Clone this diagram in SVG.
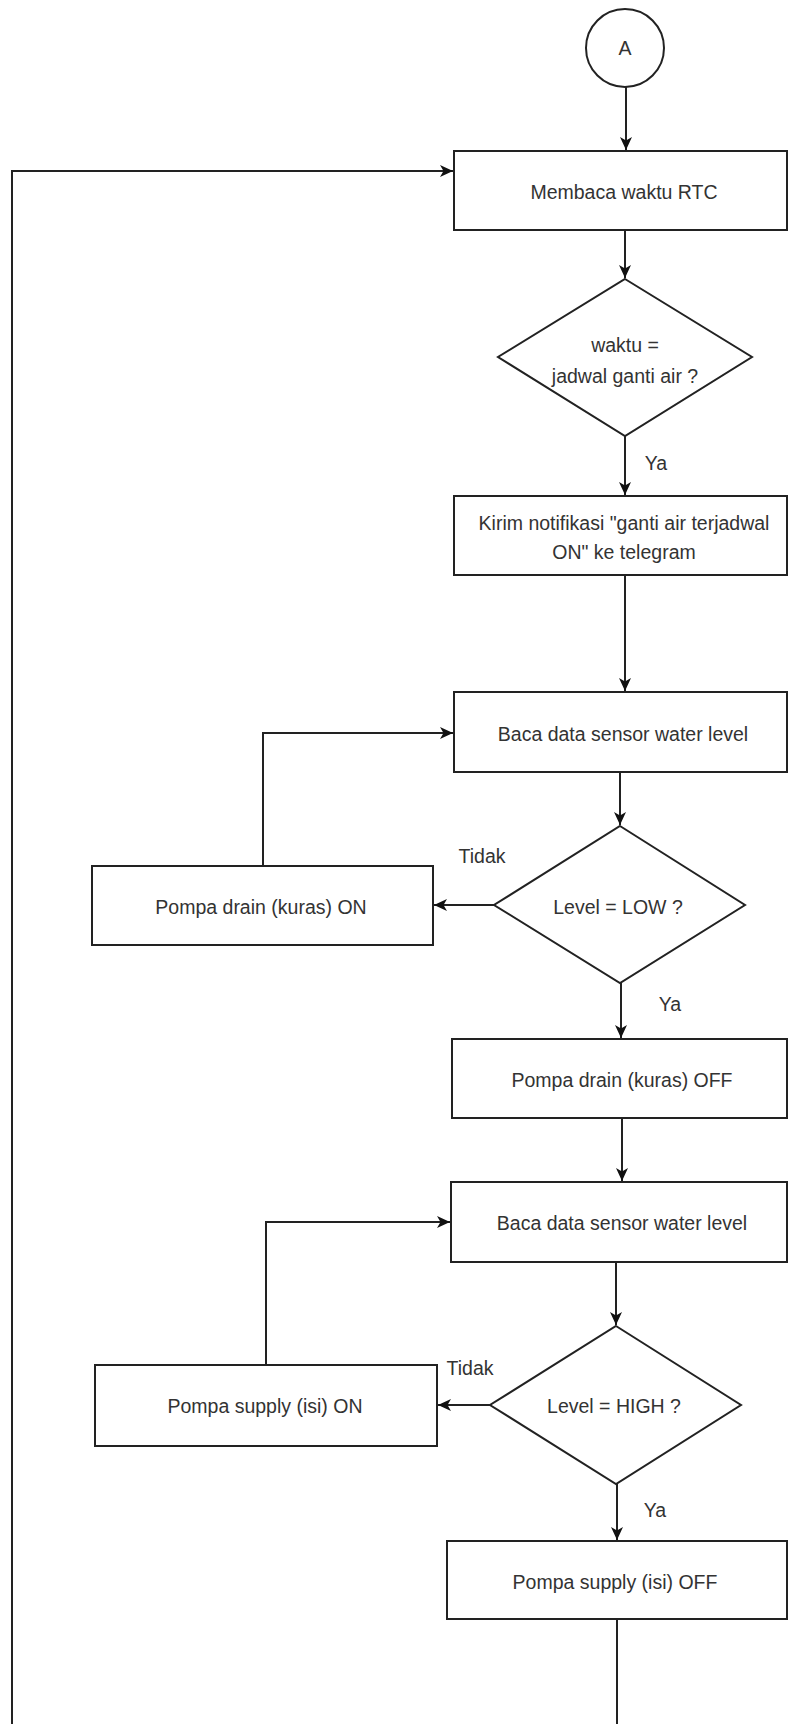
<svg xmlns="http://www.w3.org/2000/svg" width="788" height="1724" viewBox="0 0 788 1724">
<style>
  .box{fill:#fff;stroke:#222;stroke-width:2}
  .ln{fill:none;stroke:#222;stroke-width:2}
  .t{font-family:"Liberation Sans",Arial,sans-serif;font-size:19.5px;fill:#333;text-anchor:middle}
  .lbl{font-family:"Liberation Sans",Arial,sans-serif;font-size:19.5px;fill:#333;text-anchor:middle}
</style>
<defs>
  <marker id="arr" markerUnits="userSpaceOnUse" markerWidth="14" markerHeight="12" refX="13" refY="6" orient="auto">
    <path d="M0,0 L13,6 L0,12 L3.5,6 z" fill="#111"/>
  </marker>
</defs>
<rect width="788" height="1724" fill="#fff"/>
<g id="connectors">
  <line class="ln" x1="626" y1="87" x2="626" y2="150" marker-end="url(#arr)"/>
  <line class="ln" x1="625" y1="230" x2="625" y2="278" marker-end="url(#arr)"/>
  <line class="ln" x1="625" y1="436" x2="625" y2="495" marker-end="url(#arr)"/>
  <line class="ln" x1="625" y1="575" x2="625" y2="691" marker-end="url(#arr)"/>
  <line class="ln" x1="620" y1="772" x2="620" y2="825" marker-end="url(#arr)"/>
  <line class="ln" x1="494" y1="905" x2="434" y2="905" marker-end="url(#arr)"/>
  <polyline class="ln" points="263,866 263,733 453,733" marker-end="url(#arr)"/>
  <line class="ln" x1="621" y1="983" x2="621" y2="1038" marker-end="url(#arr)"/>
  <line class="ln" x1="622" y1="1118" x2="622" y2="1181" marker-end="url(#arr)"/>
  <line class="ln" x1="616" y1="1262" x2="616" y2="1325" marker-end="url(#arr)"/>
  <line class="ln" x1="490" y1="1405" x2="438" y2="1405" marker-end="url(#arr)"/>
  <polyline class="ln" points="266,1365 266,1222 450,1222" marker-end="url(#arr)"/>
  <line class="ln" x1="617" y1="1484" x2="617" y2="1540" marker-end="url(#arr)"/>
  <line class="ln" x1="617" y1="1619" x2="617" y2="1724"/>
  <polyline class="ln" points="12,1724 12,171 453,171" marker-end="url(#arr)"/>
  <text class="lbl" x="656" y="470">Ya</text>
  <text class="lbl" x="482" y="863">Tidak</text>
  <text class="lbl" x="670" y="1011">Ya</text>
  <text class="lbl" x="470" y="1375">Tidak</text>
  <text class="lbl" x="655" y="1517">Ya</text>
</g>
<g id="start-A">
  <circle class="box" cx="625" cy="48" r="39"/>
  <text class="t" x="625" y="55">A</text>
</g>
<g id="read-rtc">
  <rect class="box" x="454" y="151" width="333" height="79"/>
  <text class="t" x="624" y="199">Membaca waktu RTC</text>
</g>
<g id="check-schedule">
  <polygon class="box" points="625,279 752,357 625,436 498,357"/>
  <text class="t" x="625" y="352">waktu =</text>
  <text class="t" x="625" y="383">jadwal ganti air ?</text>
</g>
<g id="notify">
  <rect class="box" x="454" y="496" width="333" height="79"/>
  <text class="t" x="624" y="530">Kirim notifikasi "ganti air terjadwal</text>
  <text class="t" x="624" y="559">ON" ke telegram</text>
</g>
<g id="read-level-1">
  <rect class="box" x="454" y="692" width="333" height="80"/>
  <text class="t" x="623" y="741">Baca data sensor water level</text>
</g>
<g id="check-low">
  <polygon class="box" points="620,826 745,905 620,983 494,905"/>
  <text class="t" x="618" y="914">Level = LOW ?</text>
</g>
<g id="drain-on">
  <rect class="box" x="92" y="866" width="341" height="79"/>
  <text class="t" x="261" y="914">Pompa drain (kuras) ON</text>
</g>
<g id="drain-off">
  <rect class="box" x="452" y="1039" width="335" height="79"/>
  <text class="t" x="622" y="1087">Pompa drain (kuras) OFF</text>
</g>
<g id="read-level-2">
  <rect class="box" x="451" y="1182" width="336" height="80"/>
  <text class="t" x="622" y="1230">Baca data sensor water level</text>
</g>
<g id="check-high">
  <polygon class="box" points="616,1326 741,1405 616,1484 490,1405"/>
  <text class="t" x="614" y="1413">Level = HIGH ?</text>
</g>
<g id="supply-on">
  <rect class="box" x="95" y="1365" width="342" height="81"/>
  <text class="t" x="265" y="1413">Pompa supply (isi) ON</text>
</g>
<g id="supply-off">
  <rect class="box" x="447" y="1541" width="340" height="78"/>
  <text class="t" x="615" y="1589">Pompa supply (isi) OFF</text>
</g>
</svg>
